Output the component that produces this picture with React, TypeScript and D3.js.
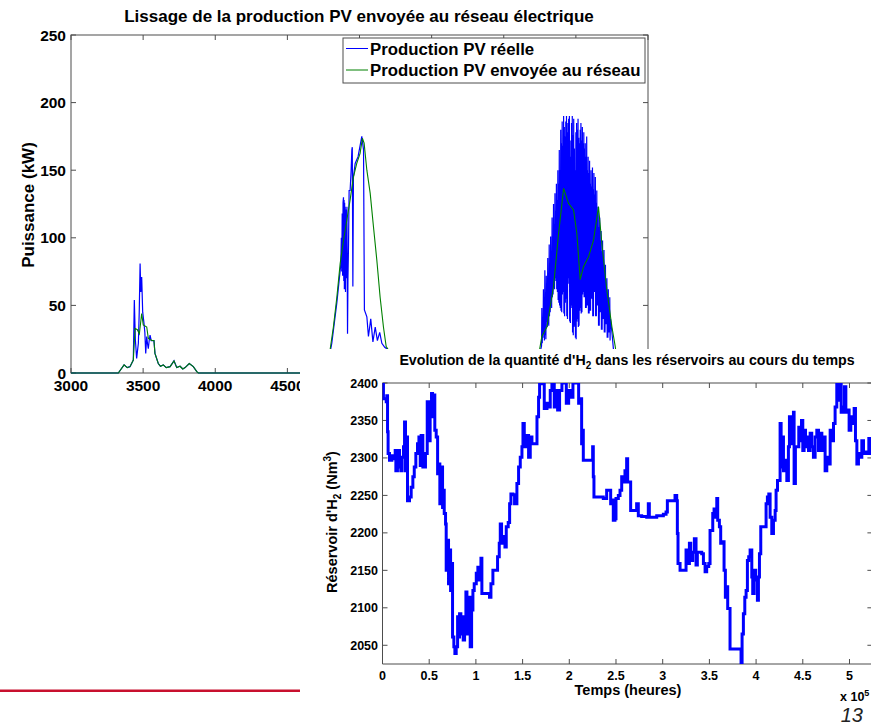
import React from 'react';
import * as d3 from 'd3';

// ---------- Top chart data (Puissance kW vs time) ----------
const pvTicksX = [3000, 3500, 4000, 4500, 5000, 5500, 6000, 6500, 7000];
const pvTicksY = [0, 50, 100, 150, 200, 250];

const pvGrid: [number, number][] = [
  [3000, 0], [3328, 0], [3368, 6], [3390, 4], [3409, 4.7], [3432, 9.6], [3444, 33], [3460, 32], [3474, 29],
  [3490, 44], [3501, 35.5], [3525, 34], [3536, 25.6], [3560, 24], [3575, 24], [3582, 14.5], [3605, 7],
  [3620, 5], [3640, 6], [3660, 4], [3687, 4.7], [3714, 9], [3733, 4], [3756, 5], [3775, 3], [3791, 4],
  [3820, 7], [3848, 4.7], [3872, 1], [3883, 0],
  [4760, 0], [4780, 8], [4796, 17], [4819, 34], [4843, 56], [4866, 81], [4889, 98], [4912, 113], [4935, 128],
  [4958, 145], [4981, 155], [5004, 162.5], [5020, 173.6], [5032, 170], [5051, 150], [5074, 133], [5097, 108],
  [5120, 83.6], [5143, 56], [5166, 34], [5185, 19.5], [5201, 17], [5225, 5], [5240, 0],
  [6200, 0], [6240, 12], [6264, 27], [6299, 34], [6345, 64], [6380, 103], [6415, 136.6], [6449, 125.5],
  [6484, 120.5], [6507, 103], [6530, 69], [6553, 78.6], [6588, 86], [6622, 98], [6657, 123], [6680, 96],
  [6715, 61], [6750, 34], [6773, 19.5], [6790, 5], [6800, 0], [7000, 0],
];

const pvReal: [number, number][] = [
  [3000, 0], [3328, 0], [3368, 6], [3390, 4], [3409, 4.7], [3432, 9.6], [3439, 54], [3446, 25], [3455, 10.8],
  [3467, 22], [3473, 45], [3479, 81], [3484, 60], [3490, 71], [3497, 45], [3506, 36.7], [3512, 30], [3518, 14.5],
  [3525, 27], [3530, 22], [3536, 18], [3542, 24], [3548, 28], [3556, 24], [3575, 24], [3582, 14.5], [3605, 7],
  [3620, 5], [3640, 6], [3660, 4], [3687, 4.7], [3714, 9], [3733, 4], [3756, 5], [3775, 3], [3791, 4],
  [3820, 7], [3848, 4.7], [3872, 1], [3883, 0],
  [4760, 0], [4790, 12], [4808, 22], [4843, 52], [4870, 80], [4874, 100], [4877, 75], [4880, 118], [4883, 72],
  [4886, 126], [4889, 130], [4891, 68], [4893, 128], [4895, 62], [4897, 126], [4899, 66], [4901, 123], [4903, 60],
  [4905, 121], [4907, 70], [4909, 120], [4911, 75], [4913, 123], [4917, 29], [4920, 70], [4924, 95], [4928, 135],
  [4935, 135], [4942, 150], [4947, 165], [4950, 167], [4954, 64], [4958, 145], [4970, 155], [4990, 160],
  [5016, 175], [5028, 165], [5034, 46.6], [5051, 41.6], [5062, 27], [5078, 40], [5093, 23], [5109, 34],
  [5124, 24], [5140, 30], [5155, 22], [5175, 19], [5201, 17], [5225, 5], [5240, 0],
  [6200, 0], [6240, 10], [6262, 20], [6264, 48], [6267, 22], [6270, 40], [6272, 26], [6275, 62], [6277, 30],
  [6280, 52], [6282, 24], [6285, 76], [6287, 28], [6290, 60], [6292, 25], [6295, 72], [6298, 38], [6300, 64],
  [6302, 34], [6305, 85], [6307, 36], [6310, 70], [6312, 35], [6315, 95], [6317, 42], [6320, 80], [6322, 45],
  [6325, 101], [6327, 50], [6330, 88], [6332, 48], [6335, 115], [6337, 56], [6340, 98], [6342, 58], [6345, 125],
  [6347, 64], [6350, 110], [6352, 62], [6355, 133], [6357, 70], [6360, 120], [6362, 68], [6365, 140], [6367, 62],
  [6370, 128], [6372, 60], [6375, 150], [6377, 54], [6380, 140], [6382, 52], [6385, 165], [6387, 50], [6390, 150],
  [6392, 48], [6395, 180], [6397, 46], [6400, 170], [6402, 45], [6405, 186], [6407, 58], [6410, 168], [6412, 60],
  [6415, 190], [6417, 44], [6420, 182], [6422, 42], [6425, 175], [6427, 52], [6430, 186], [6432, 55], [6435, 190],
  [6437, 42], [6440, 178], [6442, 40], [6445, 185], [6447, 66], [6450, 188], [6452, 70], [6455, 190], [6457, 38],
  [6460, 172], [6462, 37], [6465, 160], [6467, 48], [6470, 185], [6472, 50], [6475, 190], [6477, 30], [6480, 176],
  [6482, 28], [6485, 188], [6487, 34], [6490, 166], [6492, 35], [6495, 150], [6497, 26], [6500, 178], [6502, 25],
  [6505, 185], [6507, 38], [6510, 180], [6512, 40], [6515, 188], [6517, 34], [6520, 174], [6522, 35], [6525, 170],
  [6527, 46], [6530, 180], [6532, 48], [6535, 185], [6537, 44], [6540, 172], [6542, 45], [6545, 182], [6547, 58],
  [6550, 170], [6552, 60], [6555, 178], [6557, 56], [6560, 166], [6562, 56], [6565, 170], [6567, 48], [6570, 160],
  [6572, 48], [6575, 175], [6577, 50], [6580, 150], [6582, 50], [6585, 160], [6587, 44], [6590, 148], [6592, 44],
  [6595, 157], [6597, 46], [6600, 140], [6602, 46], [6605, 150], [6607, 55], [6610, 138], [6612, 55], [6615, 152],
  [6617, 42], [6620, 136], [6622, 42], [6625, 148], [6627, 60], [6630, 132], [6632, 60], [6635, 145], [6637, 42],
  [6640, 126], [6642, 42], [6645, 135], [6647, 50], [6650, 118], [6652, 50], [6655, 123], [6657, 35], [6660, 108],
  [6662, 35], [6665, 115], [6667, 45], [6670, 98], [6672, 45], [6675, 105], [6677, 32], [6680, 90], [6682, 32],
  [6685, 98], [6687, 40], [6690, 84], [6692, 40], [6695, 91], [6697, 30], [6700, 76], [6702, 30], [6705, 80],
  [6707, 36], [6710, 64], [6712, 36], [6715, 70], [6717, 26], [6720, 58], [6722, 26], [6725, 62], [6727, 30],
  [6730, 48], [6732, 30], [6735, 56], [6737, 24], [6740, 40], [6750, 30], [6760, 18], [6770, 8], [6790, 0],
  [7000, 0],
];

// ---------- Bottom chart data (H2 reservoir vs time, x 10^5) ----------
const h2TicksX = [0, 0.5, 1, 1.5, 2, 2.5, 3, 3.5, 4, 4.5, 5];
const h2TicksY = [2050, 2100, 2150, 2200, 2250, 2300, 2350, 2400];

const h2Level: [number, number][] = [
  [0, 2400], [0.01, 2379], [0.04, 2375], [0.046, 2383], [0.054, 2335], [0.06, 2306], [0.075, 2297], [0.1, 2303],
  [0.118, 2299], [0.136, 2310], [0.143, 2283], [0.16, 2299], [0.171, 2310], [0.182, 2288], [0.196, 2283],
  [0.21, 2301], [0.225, 2315], [0.236, 2348], [0.246, 2283], [0.26, 2328], [0.268, 2243], [0.289, 2248],
  [0.307, 2261], [0.325, 2275], [0.34, 2288], [0.357, 2306], [0.375, 2319], [0.39, 2328], [0.404, 2290],
  [0.414, 2330], [0.432, 2288], [0.446, 2288], [0.46, 2306], [0.479, 2375], [0.496, 2323], [0.51, 2364],
  [0.525, 2386], [0.536, 2355], [0.546, 2384], [0.56, 2337], [0.575, 2328], [0.59, 2279], [0.604, 2292],
  [0.614, 2239], [0.629, 2288], [0.643, 2234], [0.654, 2257], [0.661, 2226], [0.675, 2212], [0.682, 2150],
  [0.696, 2190], [0.707, 2132], [0.718, 2177], [0.729, 2123], [0.739, 2159], [0.75, 2061], [0.764, 2048],
  [0.775, 2039], [0.789, 2048], [0.804, 2088], [0.814, 2061], [0.825, 2092], [0.839, 2065], [0.854, 2088],
  [0.864, 2057], [0.879, 2070], [0.893, 2121], [0.904, 2065], [0.914, 2074], [0.929, 2114], [0.939, 2048],
  [0.954, 2097], [0.968, 2123], [0.982, 2132], [1.004, 2146], [1.021, 2154], [1.036, 2137], [1.054, 2166],
  [1.064, 2119], [1.146, 2114], [1.161, 2132], [1.182, 2150], [1.232, 2168], [1.25, 2186], [1.261, 2212],
  [1.275, 2186], [1.296, 2195], [1.311, 2181], [1.325, 2208], [1.346, 2214], [1.361, 2239], [1.375, 2252],
  [1.396, 2251], [1.414, 2239], [1.439, 2266], [1.457, 2288], [1.475, 2301], [1.493, 2315], [1.504, 2346],
  [1.518, 2328], [1.532, 2315], [1.546, 2330], [1.564, 2301], [1.582, 2328], [1.6, 2319], [1.654, 2355],
  [1.671, 2381], [1.682, 2399], [1.707, 2400], [1.732, 2366], [1.761, 2373], [1.779, 2368], [1.796, 2390],
  [1.814, 2400], [1.839, 2368], [1.857, 2390], [1.875, 2364], [1.896, 2390], [1.921, 2400], [1.968, 2373],
  [1.993, 2390], [2.018, 2381], [2.039, 2400], [2.082, 2400], [2.1, 2373], [2.114, 2379], [2.132, 2319],
  [2.143, 2337], [2.15, 2297], [2.239, 2297], [2.25, 2315], [2.257, 2275], [2.264, 2248], [2.364, 2246],
  [2.4, 2257], [2.429, 2257], [2.443, 2239], [2.461, 2244], [2.471, 2217], [2.489, 2219], [2.5, 2246],
  [2.525, 2250], [2.543, 2257], [2.561, 2275], [2.579, 2268], [2.596, 2283], [2.614, 2299], [2.625, 2268],
  [2.657, 2230], [2.704, 2230], [2.721, 2239], [2.739, 2223], [2.775, 2222], [2.829, 2221], [2.846, 2239],
  [2.857, 2221], [2.936, 2223], [3.007, 2225], [3.036, 2228], [3.05, 2243], [3.114, 2243], [3.132, 2250],
  [3.15, 2243], [3.157, 2199], [3.164, 2159], [3.186, 2150], [3.25, 2177], [3.264, 2159], [3.286, 2186],
  [3.3, 2163], [3.321, 2174], [3.339, 2192], [3.357, 2157], [3.371, 2174], [3.418, 2172], [3.436, 2159],
  [3.454, 2148], [3.471, 2155], [3.493, 2159], [3.507, 2203], [3.536, 2226], [3.55, 2232], [3.561, 2221],
  [3.579, 2246], [3.589, 2217], [3.607, 2208], [3.621, 2186], [3.643, 2188], [3.657, 2150], [3.671, 2114],
  [3.686, 2128], [3.696, 2099], [3.721, 2045], [3.829, 2045], [3.839, 2025], [3.85, 2065], [3.864, 2092],
  [3.879, 2114], [3.893, 2123], [3.907, 2163], [3.921, 2168], [3.936, 2177], [3.954, 2141], [3.964, 2119],
  [3.979, 2150], [3.996, 2137], [4.014, 2110], [4.025, 2141], [4.036, 2172], [4.05, 2208], [4.107, 2239],
  [4.121, 2248], [4.136, 2252], [4.15, 2221], [4.168, 2199], [4.186, 2217], [4.204, 2230], [4.214, 2257],
  [4.229, 2270], [4.257, 2346], [4.268, 2288], [4.279, 2328], [4.293, 2283], [4.311, 2297], [4.329, 2270],
  [4.346, 2315], [4.357, 2355], [4.371, 2319], [4.386, 2337], [4.4, 2361], [4.407, 2266], [4.421, 2315],
  [4.457, 2341], [4.471, 2323], [4.486, 2350], [4.5, 2310], [4.514, 2337], [4.529, 2315], [4.543, 2328],
  [4.561, 2310], [4.579, 2333], [4.596, 2315], [4.614, 2301], [4.632, 2328], [4.65, 2337], [4.668, 2310],
  [4.686, 2333], [4.704, 2310], [4.721, 2328], [4.739, 2283], [4.757, 2301], [4.775, 2292], [4.793, 2337],
  [4.811, 2323], [4.829, 2346], [4.846, 2368], [4.864, 2399], [4.882, 2377], [4.9, 2399], [4.911, 2361],
  [4.929, 2368], [4.946, 2395], [4.961, 2361], [4.982, 2364], [4.996, 2337], [5.014, 2355], [5.036, 2346],
  [5.05, 2366], [5.064, 2323], [5.079, 2292], [5.096, 2306], [5.114, 2301], [5.132, 2323], [5.15, 2306],
  [5.171, 2308], [5.193, 2306], [5.207, 2326], [5.221, 2306], [5.256, 2306],
];

const FONT = '"Liberation Sans", Arial, Helvetica, sans-serif';
const AXIS = '#4d4d4d';

export default function App() {
  // Top chart scales
  const xTop = d3.scaleLinear().domain([3000, 7000]).range([71, 648]);
  const yTop = d3.scaleLinear().domain([0, 250]).range([373, 35]);
  // Bottom chart scales
  const xBot = d3.scaleLinear().domain([0, 5.256]).range([382.5, 873.4]);
  const yBot = d3.scaleLinear().domain([2025, 2400]).range([664, 383]);

  const lineTop = d3.line<[number, number]>().x(d => xTop(d[0])).y(d => yTop(d[1]));
  const lineBot = d3
    .line<[number, number]>()
    .x(d => xBot(d[0]))
    .y(d => yBot(d[1]))
    .curve(d3.curveStepAfter);

  const tl = 5;
  const [tx0, tx1] = xTop.range();
  const [ty0, ty1] = yTop.range();
  const [bx0, bx1] = xBot.range();
  const [by0, by1] = yBot.range();

  return (
    <svg
      width={871}
      height={724}
      style={{ position: 'absolute', left: 0, top: 0, background: '#fff' }}
      fontFamily={FONT}
    >
      <defs>
        <clipPath id="clipTop">
          <rect x={tx0} y={ty1} width={tx1 - tx0} height={ty0 - ty1 + 1} />
        </clipPath>
        <clipPath id="clipBot">
          <rect x={bx0} y={by1} width={bx1 - bx0} height={by0 - by1} />
        </clipPath>
      </defs>
      <rect x={0} y={0} width={871} height={724} fill="#fff" />

      {/* ===== Top chart ===== */}
      <text x={359} y={22} textAnchor="middle" fontSize={17} fontWeight="bold" fill="#000">
        Lissage de la production PV envoyée au réseau électrique
      </text>
      <rect x={tx0} y={ty1} width={tx1 - tx0} height={ty0 - ty1} fill="none" stroke={AXIS} strokeWidth={1} />
      {pvTicksX.map(t => (
        <g key={'tx' + t}>
          <line x1={xTop(t)} x2={xTop(t)} y1={ty0} y2={ty0 - tl} stroke={AXIS} />
          <line x1={xTop(t)} x2={xTop(t)} y1={ty1} y2={ty1 + tl} stroke={AXIS} />
          <text x={xTop(t)} y={391} textAnchor="middle" fontSize={15.5} fontWeight="bold">
            {t}
          </text>
        </g>
      ))}
      {pvTicksY.map(t => (
        <g key={'ty' + t}>
          <line x1={tx0} x2={tx0 + tl} y1={yTop(t)} y2={yTop(t)} stroke={AXIS} />
          <line x1={tx1} x2={tx1 - tl} y1={yTop(t)} y2={yTop(t)} stroke={AXIS} />
          <text x={66} y={yTop(t) + 5.5} textAnchor="end" fontSize={15.5} fontWeight="bold">
            {t}
          </text>
        </g>
      ))}
      <text
        transform="translate(34,205) rotate(-90)"
        textAnchor="middle"
        fontSize={17}
        fontWeight="bold"
      >
        Puissance (kW)
      </text>
      <g clipPath="url(#clipTop)">
        <path d={lineTop(pvReal) || ''} fill="none" stroke="#0000ff" strokeWidth={1.2} />
        <path d={lineTop(pvGrid) || ''} fill="none" stroke="#008000" strokeWidth={1.1} />
      </g>
      {/* legend */}
      <rect x={343} y={38} width={302} height={45} fill="#fff" stroke={AXIS} strokeWidth={1} />
      <line x1={346} x2={368} y1={48.5} y2={48.5} stroke="#0000ff" strokeWidth={1} />
      <line x1={346} x2={368} y1={70} y2={70} stroke="#008000" strokeWidth={1} />
      <text x={370} y={54.5} fontSize={16.8} fontWeight="bold">
        Production PV réelle
      </text>
      <text x={370} y={76} fontSize={16.8} fontWeight="bold">
        Production PV envoyée au réseau
      </text>

      {/* red footer line */}
      <line x1={0} x2={300} y1={690.7} y2={690.7} stroke="#c8102e" strokeWidth={2.5} />

      {/* ===== Bottom figure (overlay) ===== */}
      <rect x={300} y={349} width={571} height={375} fill="#fff" />
      <text x={627} y={365} textAnchor="middle" fontSize={14.2} fontWeight="bold">
        Evolution de la quantité d'H
        <tspan fontSize={10} dy={4}>2</tspan>
        <tspan dy={-4}> dans les réservoirs au cours du temps</tspan>
      </text>
      <line x1={bx0} x2={bx0} y1={by1} y2={by0} stroke={AXIS} />
      <line x1={bx0} x2={871} y1={by0} y2={by0} stroke={AXIS} />
      <line x1={bx0} x2={871} y1={by1} y2={by1} stroke={AXIS} />
      {h2TicksX.map(t => (
        <g key={'bx' + t}>
          <line x1={xBot(t)} x2={xBot(t)} y1={by0} y2={by0 - tl} stroke={AXIS} />
          <line x1={xBot(t)} x2={xBot(t)} y1={by1} y2={by1 + tl} stroke={AXIS} />
          <text x={xBot(t)} y={680} textAnchor="middle" fontSize={12.5} fontWeight="bold">
            {t}
          </text>
        </g>
      ))}
      {h2TicksY.map(t => (
        <g key={'by' + t}>
          <line x1={bx0} x2={bx0 + tl} y1={yBot(t)} y2={yBot(t)} stroke={AXIS} />
          <line x1={bx1} x2={bx1 - tl - 1} y1={yBot(t)} y2={yBot(t)} stroke={AXIS} />
          <text x={378} y={yBot(t) + 4.5} textAnchor="end" fontSize={12.5} fontWeight="bold">
            {t}
          </text>
        </g>
      ))}
      <g clipPath="url(#clipBot)">
        <path d={lineBot(h2Level) || ''} fill="none" stroke="#0000ff" strokeWidth={3} strokeLinejoin="miter" />
      </g>
      <text x={628} y={695} textAnchor="middle" fontSize={14.5} fontWeight="bold">
        Temps (heures)
      </text>
      <text transform="translate(337,522) rotate(-90)" textAnchor="middle" fontSize={14.5} fontWeight="bold">
        Réservoir d'H
        <tspan fontSize={10} dy={4}>2</tspan>
        <tspan dy={-4}> (Nm</tspan>
        <tspan fontSize={10} dy={-6}>3</tspan>
        <tspan dy={6}>)</tspan>
      </text>
      <text x={840} y={701} fontSize={12.5} fontWeight="bold">
        x 10
        <tspan fontSize={9} dy={-5}>5</tspan>
      </text>
      <text x={863} y={722} textAnchor="end" fontSize={20} fontStyle="italic" fill="#222">
        13
      </text>
    </svg>
  );
}
